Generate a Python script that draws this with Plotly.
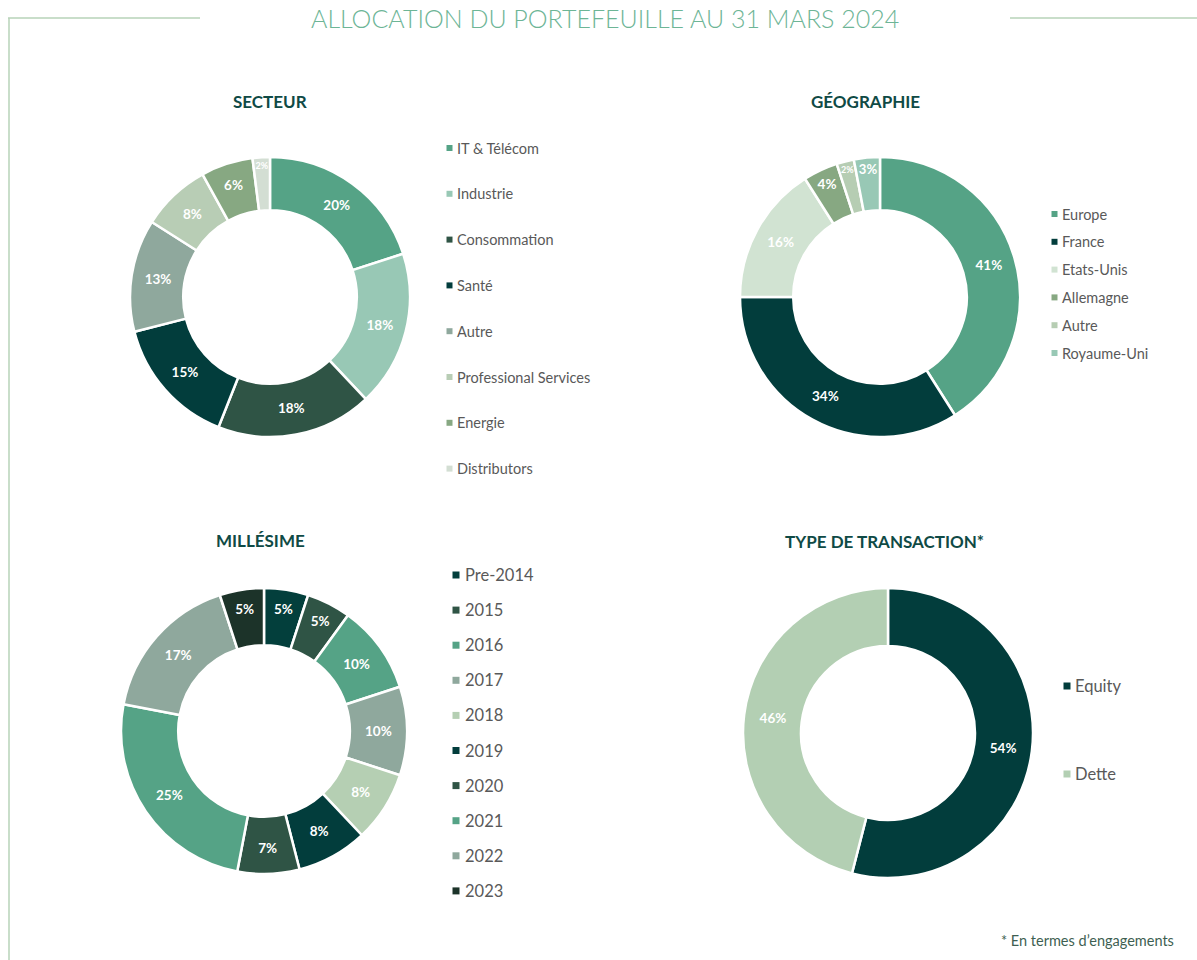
import plotly.graph_objects as go

OFF = 0
W, H = 1197, 960

# ---------------- data ----------------
secteur_labels = ["IT & Télécom", "Industrie", "Consommation", "Santé", "Autre",
                  "Professional Services", "Energie", "Distributors"]
secteur_values = [20, 18, 18, 15, 13, 8, 6, 2]
secteur_colors = ["#55A386", "#98C8B5", "#2F5445", "#023D3C", "#8FA89D",
                  "#B8CDB5", "#87A882", "#D3DED3"]

geo_labels = ["Europe", "France", "Etats-Unis", "Allemagne", "Autre", "Royaume-Uni"]
geo_values = [41, 34, 16, 4, 2, 3]
geo_colors = ["#55A386", "#023D3C", "#D1E3D2", "#87A882", "#B6CDB3", "#98C8B5"]

mill_labels = ["Pre-2014", "2015", "2016", "2017", "2018", "2019", "2020", "2021", "2022", "2023"]
mill_values = [5, 5, 10, 10, 8, 8, 7, 25, 17, 5]
mill_colors = ["#033F3C", "#2F5445", "#55A386", "#8FA89D", "#B5CFB3",
               "#023D3C", "#2F5445", "#55A386", "#8FA89D", "#1C3329"]

trans_labels = ["Equity", "Dette"]
trans_values = [54, 46]
trans_colors = ["#023D3C", "#B3CFB3"]

main_title = "ALLOCATION DU PORTEFEUILLE AU 31 MARS 2024"
titles = ["SECTEUR", "GÉOGRAPHIE", "MILLÉSIME", "TYPE DE TRANSACTION*"]
footnote = "* En termes d\u2019engagements"

# ---------------- helpers ----------------
def px_x(x):
    return (x - OFF) / W

def px_y(y):
    return 1 - (y - OFF) / H

def pie(labels, values, colors, x0, x1, y0, y1, hole):
    return go.Pie(
        labels=labels, values=values, sort=False, direction="clockwise", rotation=0,
        hole=hole,
        marker=dict(colors=colors, line=dict(color="white", width=2.5)),
        texttemplate="%{percent:.0%}", textposition="inside",
        insidetextorientation="horizontal",
        textfont=dict(family="Lato", size=13.5, color="white", weight="bold"),
        domain=dict(x=[px_x(x0), px_x(x1)], y=[px_y(y1), px_y(y0)]),
        showlegend=False, hoverinfo="label+percent",
    )

fig = go.Figure()
fig.add_trace(pie(secteur_labels, secteur_values, secteur_colors, 130, 410, 157, 437, 0.62))
fig.add_trace(pie(geo_labels, geo_values, geo_colors, 740, 1020, 157, 437, 0.62))
fig.add_trace(pie(mill_labels, mill_values, mill_colors, 121, 407, 588, 874, 0.60))
fig.add_trace(pie(trans_labels, trans_values, trans_colors, 743, 1033, 588, 878, 0.60))

annotations = []
shapes = []

# main title
annotations.append(dict(text=main_title, x=px_x(605), y=px_y(18), xref="paper", yref="paper",
                        showarrow=False, xanchor="center", yanchor="middle",
                        font=dict(family="Lato", size=25, color="#6DB596", weight=300)))

# frame lines
line_col = "#B7D3B8"
shapes.append(dict(type="line", xref="paper", yref="paper", x0=px_x(8), x1=px_x(200),
                   y0=px_y(18), y1=px_y(18), line=dict(color=line_col, width=1.5)))
shapes.append(dict(type="line", xref="paper", yref="paper", x0=px_x(1010), x1=1,
                   y0=px_y(18), y1=px_y(18), line=dict(color=line_col, width=1.5)))
shapes.append(dict(type="line", xref="paper", yref="paper", x0=px_x(9), x1=px_x(9),
                   y0=px_y(18), y1=0, line=dict(color=line_col, width=1.5)))

# section titles
for t, (cx, cy) in zip(titles, [(270, 101), (865, 101), (260, 540), (884, 541)]):
    annotations.append(dict(text=t, x=px_x(cx), y=px_y(cy), xref="paper", yref="paper",
                            showarrow=False, xanchor="center", yanchor="middle",
                            font=dict(family="Lato", size=17, color="#0F4A45", weight="bold")))

# legends (manual)
def legend(labels, colors, mx, tx, y0, step, size, font_size):
    for i, (lab, col) in enumerate(zip(labels, colors)):
        y = y0 + i * step
        shapes.append(dict(type="rect", xref="paper", yref="paper",
                           x0=px_x(mx - size / 2), x1=px_x(mx + size / 2),
                           y0=px_y(y + size / 2), y1=px_y(y - size / 2),
                           fillcolor=col, line=dict(width=0)))
        annotations.append(dict(text=lab, x=px_x(tx), y=px_y(y), xref="paper", yref="paper",
                                showarrow=False, xanchor="left", yanchor="middle",
                                font=dict(family="Lato", size=font_size, color="#595959")))

legend(secteur_labels, secteur_colors, 449.5, 455, 148, 45.8, 6, 14.5)
legend(geo_labels, geo_colors, 1054.5, 1060, 214, 27.8, 6, 14.5)
legend(mill_labels, mill_colors, 456, 463, 575, 35.1, 7, 16.5)
legend(trans_labels, trans_colors, 1067, 1073, 686, 88, 7, 16.5)

# footnote
annotations.append(dict(text=footnote, x=px_x(1176), y=px_y(940), xref="paper", yref="paper",
                        showarrow=False, xanchor="right", yanchor="middle",
                        font=dict(family="Lato", size=14.5, color="#3E5F52")))

fig.update_layout(width=W, height=H, margin=dict(l=0, r=0, t=0, b=0),
                  paper_bgcolor="white", plot_bgcolor="white",
                  annotations=annotations, shapes=shapes)

fig.write_html("out.html", config={"displayModeBar": False},
               post_script="document.body.style.margin='0';document.body.style.overflow='hidden';")
